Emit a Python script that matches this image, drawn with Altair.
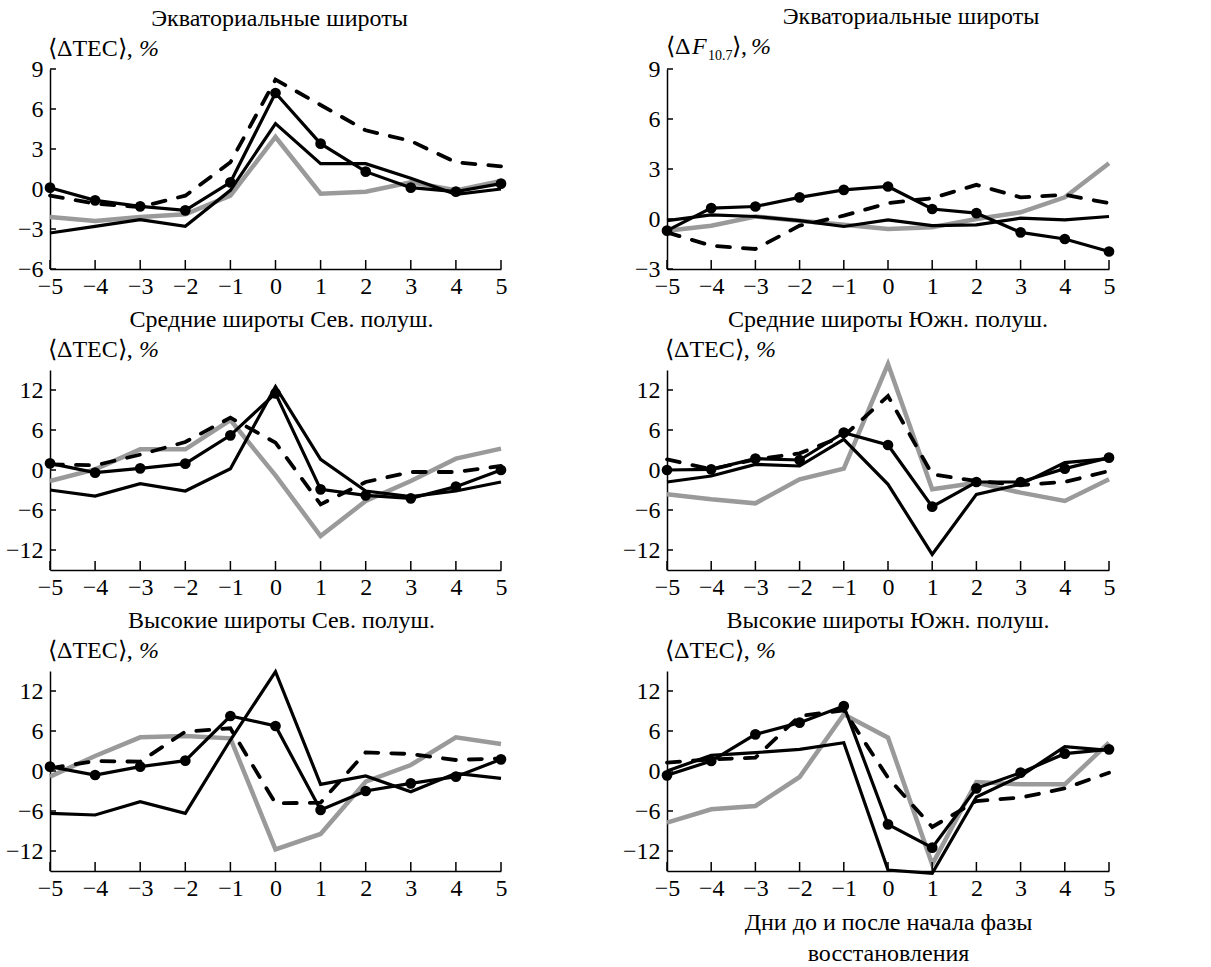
import altair as alt
import pandas as pd

DAYS = list(range(-5, 6))

# Panel A: equatorial latitudes, TEC
A_dots = [0.1, -0.85, -1.3, -1.6, 0.5, 7.2, 3.4, 1.3, 0.1, -0.2, 0.4]
A_dash = [-0.5, -1.1, -1.35, -0.5, 2.0, 8.2, 6.3, 4.4, 3.6, 2.0, 1.7]
A_thin = [-3.3, -2.8, -2.3, -2.8, -0.1, 4.9, 1.9, 1.9, 0.8, -0.4, 0.0]
A_gray = [-2.1, -2.4, -2.1, -1.9, -0.5, 3.9, -0.35, -0.2, 0.5, -0.1, 0.6]

# Panel B: equatorial latitudes, F10.7
B_dots = [-0.7, 0.65, 0.75, 1.3, 1.75, 1.95, 0.6, 0.35, -0.8, -1.2, -1.95]
B_dash = [-0.8, -1.6, -1.8, -0.4, 0.2, 0.95, 1.25, 2.05, 1.3, 1.45, 0.95]
B_thin = [-0.1, 0.25, 0.15, -0.1, -0.45, -0.05, -0.4, -0.35, 0.05, -0.05, 0.15]
B_gray = [-0.7, -0.4, 0.15, -0.1, -0.35, -0.6, -0.5, 0.0, 0.4, 1.3, 3.35]

# Panel C: mid latitudes, northern hemisphere
C_dots = [1.0, -0.4, 0.25, 0.95, 5.2, 11.5, -2.9, -3.8, -4.25, -2.5, 0.0]
C_dash = [0.85, 0.7, 2.3, 4.2, 7.85, 4.1, -5.15, -1.8, -0.3, -0.3, 0.6]
C_thin = [-3.0, -3.9, -2.05, -3.15, 0.2, 12.5, 1.6, -3.15, -4.0, -3.15, -1.8]
C_gray = [-1.65, 0.1, 3.1, 3.1, 7.5, -0.8, -9.9, -4.65, -1.65, 1.7, 3.2]

# Panel D: mid latitudes, southern hemisphere
D_dots = [0.0, 0.1, 1.7, 1.5, 5.6, 3.75, -5.5, -1.8, -1.8, 0.2, 1.85]
D_dash = [1.6, 0.1, 1.6, 2.5, 5.1, 11.1, -0.65, -1.65, -2.25, -1.8, -0.15]
D_thin = [-1.8, -0.9, 0.85, 0.6, 4.6, -2.15, -12.65, -3.65, -2.15, 1.1, 1.7]
D_gray = [-3.65, -4.4, -5.0, -1.4, 0.2, 15.9, -2.9, -1.9, -3.4, -4.65, -1.4]

# Panel E: high latitudes, northern hemisphere
E_dots = [0.65, -0.6, 0.65, 1.55, 8.25, 6.75, -5.85, -3.0, -1.85, -0.85, 1.75]
E_dash = [0.4, 1.5, 1.4, 5.9, 6.4, -4.85, -4.75, 2.8, 2.55, 1.65, 1.9]
E_thin = [-6.35, -6.6, -4.6, -6.35, 4.65, 14.9, -2.0, -0.75, -3.1, -0.35, -1.1]
E_gray = [-0.85, 2.25, 5.05, 5.25, 4.9, -11.75, -9.45, -1.6, 0.9, 5.05, 4.05]

# Panel F: high latitudes, southern hemisphere
F_dots = [-0.65, 1.5, 5.5, 7.25, 9.75, -8.0, -11.5, -2.6, -0.25, 2.6, 3.25]
F_dash = [1.25, 1.75, 2.0, 8.25, 9.1, -1.0, -8.4, -4.5, -4.0, -2.6, -0.25]
F_thin = [0.0, 2.35, 2.75, 3.25, 4.25, -14.85, -15.35, -3.9, -0.75, 3.65, 3.1]
F_gray = [-7.75, -5.75, -5.25, -0.9, 8.5, 5.0, -14.0, -1.65, -2.0, -2.0, 4.25]

TITLES = [
    "Экваториальные широты", "Экваториальные широты",
    "Средние широты Сев. полуш.", "Средние широты Южн. полуш.",
    "Высокие широты Сев. полуш.", "Высокие широты Южн. полуш.",
]
X_TITLE = ["Дни до и после начала фазы", "восстановления"]

FONT = "Liberation Serif"
FS = 24
H = 200
W_L, W_R = 451, 442

TEC_LABEL = [("⟨ΔTEC⟩, ", -2, -13, FS, "normal"), ("%", 89, -13, FS, "italic")]
F107_LABEL = [("⟨Δ", -1, -15, FS, "normal"), ("F", 25, -15, FS, "italic"),
              ("10.7", 41, -9, 14, "normal"), ("⟩, ", 65, -15, FS, "normal"),
              ("%", 84, -15, FS, "italic")]


def panel(dots, dash, thin, gray, ydomain, yticks, width, title, ylabel, xtitle=None, title_dx=0):
    x_scale = alt.Scale(domain=[-5, 5], nice=False, zero=False)
    y_scale = alt.Scale(domain=ydomain, nice=False, zero=False)
    x_axis_kw = dict(values=DAYS, format="d", ticks=False, grid=False,
                     domainColor="black", domainWidth=1.5,
                     labelFont=FONT, labelFontSize=FS, labelColor="black",
                     labelPadding=5, labelFlush=False, labelOverlap=False)
    if xtitle:
        x_axis_kw.update(title=xtitle, titleFont=FONT, titleFontSize=FS,
                         titleFontWeight="normal", titleColor="black",
                         titlePadding=10, titleLineHeight=31)
    else:
        x_axis_kw.update(title=None)
    x_enc = alt.X("day:Q", scale=x_scale, axis=alt.Axis(**x_axis_kw))
    y_enc = alt.Y("value:Q", scale=y_scale,
                  axis=alt.Axis(values=yticks, format="d", ticks=False, grid=False,
                                title=None, domainColor="black", domainWidth=1.5,
                                labelFont=FONT, labelFontSize=FS, labelColor="black",
                                labelPadding=7, labelFlush=False, labelOverlap=False,
                                labelBaseline="middle"))

    def df(vals):
        return pd.DataFrame({"day": DAYS, "value": vals})

    g = alt.Chart(df(gray)).mark_line(color="#9a9a9a", strokeWidth=4.5).encode(x=x_enc, y=y_enc)
    d = alt.Chart(df(dash)).mark_line(color="black", strokeWidth=3.8, strokeDash=[13, 13],
                                      strokeCap="round").encode(x=x_enc, y=y_enc)
    t = alt.Chart(df(thin)).mark_line(color="black", strokeWidth=3.2).encode(x=x_enc, y=y_enc)
    p = alt.Chart(df(dots)).mark_line(
        color="black", strokeWidth=3.2,
        point=alt.OverlayMarkDef(filled=True, fill="black", color="black", size=115, opacity=1),
    ).encode(x=x_enc, y=y_enc)

    xt = alt.Chart(pd.DataFrame({"day": DAYS})).mark_rule(color="black", strokeWidth=1.5).encode(
        x=x_enc, y=alt.value(H), y2=alt.value(H - 9))
    yt = alt.Chart(pd.DataFrame({"value": yticks})).mark_rule(color="black", strokeWidth=1.5).encode(
        y=y_enc, x=alt.value(0), x2=alt.value(6))

    texts = []
    for txt, dx, dy, size, style in ylabel:
        texts.append(
            alt.Chart(pd.DataFrame({"t": [txt]})).mark_text(
                align="left", baseline="alphabetic", font=FONT, fontSize=size,
                fontStyle=style, color="black").encode(
                text="t:N", x=alt.value(dx), y=alt.value(dy)))

    return alt.layer(g, d, t, p, xt, yt, *texts).properties(
        width=width, height=H,
        title=alt.TitleParams(text=title, font=FONT, fontSize=FS, fontWeight="normal",
                              color="black", anchor="middle", frame="group",
                              baseline="alphabetic", offset=-13, dx=title_dx),
    )


Y1 = [-6, -3, 0, 3, 6, 9]
Y2 = [-3, 0, 3, 6, 9]
Y3 = [-12, -6, 0, 6, 12]

pA = panel(A_dots, A_dash, A_thin, A_gray, [-6, 9], Y1, W_L, TITLES[0], TEC_LABEL, title_dx=4)
pB = panel(B_dots, B_dash, B_thin, B_gray, [-3, 9], Y2, W_R, TITLES[1], F107_LABEL, title_dx=23)
pC = panel(C_dots, C_dash, C_thin, C_gray, [-15, 15], Y3, W_L, TITLES[2], TEC_LABEL, title_dx=6)
pD = panel(D_dots, D_dash, D_thin, D_gray, [-15, 15], Y3, W_R, TITLES[3], TEC_LABEL)
pE = panel(E_dots, E_dash, E_thin, E_gray, [-15, 15], Y3, W_L, TITLES[4], TEC_LABEL, title_dx=6)
pF = panel(F_dots, F_dash, F_thin, F_gray, [-15, 15], Y3, W_R, TITLES[5], TEC_LABEL, X_TITLE)

chart = alt.concat(pA, pB, pC, pD, pE, pF, columns=2, bounds="flush",
                   spacing={"row": 101, "column": 166}).configure(
    background="white").configure_view(stroke=None)

chart.save("out.html", embed_options={"renderer": "svg", "actions": False})
